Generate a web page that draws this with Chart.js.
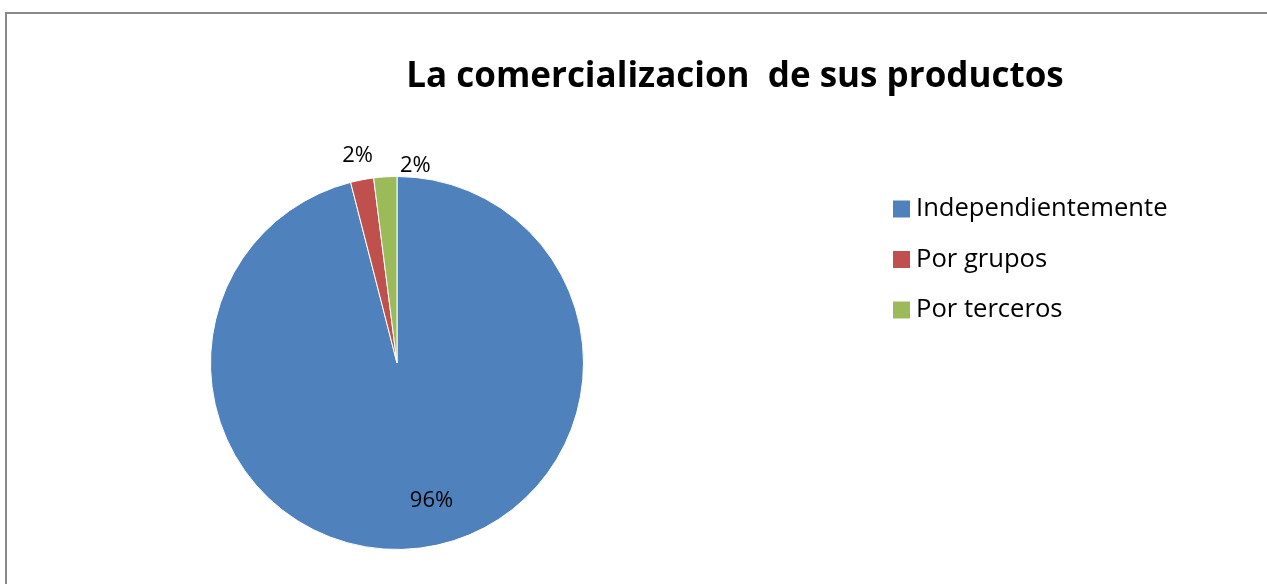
<!DOCTYPE html>
<html>
<head>
<meta charset="utf-8">
<script src="https://cdn.jsdelivr.net/npm/chart.js@4.4.0/dist/chart.umd.min.js"></script>
<style>
html,body{margin:0;padding:0;background:#fff;width:1267px;height:584px;overflow:hidden;}
#frame{position:absolute;left:5px;top:12px;width:1262px;height:572px;border-left:2px solid #888;border-top:2px solid #888;box-sizing:border-box;}
#c{position:absolute;left:0;top:0;}
</style>
</head>
<body>
<div id="frame"></div>
<canvas id="c" width="1267" height="584"></canvas>
<script>
const title = 'La comercializacion  de sus productos';
const categories = ['Independientemente', 'Por grupos', 'Por terceros'];
const values = [96, 2, 2];
const labels = ['96%', '2%', '2%'];
const colors = ['#4F81BD', '#C0504D', '#9BBB59'];

const FONT = '"Open Sans", "DejaVu Sans", sans-serif';

const decor = {
  id: 'decor',
  afterDraw(chart) {
    const ctx = chart.ctx;
    const meta = chart.getDatasetMeta(0);
    ctx.save();
    // title
    ctx.fillStyle = '#000';
    ctx.font = 'bold 35px ' + FONT;
    ctx.textAlign = 'center';
    ctx.textBaseline = 'middle';
    ctx.fillText(title, 735, 77);
    // data labels
    ctx.font = '22px ' + FONT;
    meta.data.forEach((arc, i) => {
      const p = arc.getProps(['x','y','startAngle','endAngle','outerRadius'], true);
      const mid = (p.startAngle + p.endAngle) / 2;
      let x, y, align = 'center';
      if (i === 0) {
        const a = mid - 0.12;
        const r = p.outerRadius * 0.76;
        x = p.x + Math.cos(a) * r; y = p.y + Math.sin(a) * r;
      } else if (i === 1) {
        const r = p.outerRadius + 24;
        x = p.x + Math.cos(mid) * r; y = p.y + Math.sin(mid) * r;
      } else {
        const a = p.endAngle;
        const r = p.outerRadius + 11;
        x = p.x + Math.cos(a) * r + 3; y = p.y + Math.sin(a) * r;
        align = 'left';
      }
      ctx.textAlign = align;
      ctx.fillText(labels[i], x, y);
    });
    // legend
    ctx.font = '25.6px ' + FONT;
    ctx.textAlign = 'left';
    categories.forEach((c, i) => {
      const cy = 209 + i * 50.5;
      ctx.fillStyle = colors[i];
      ctx.fillRect(893, cy - 8.5, 17, 17);
      ctx.fillStyle = '#000';
      ctx.fillText(c, 916, cy);
    });
    ctx.restore();
  }
};

new Chart(document.getElementById('c'), {
  type: 'pie',
  data: {
    labels: categories,
    datasets: [{
      data: values,
      backgroundColor: colors,
      borderColor: '#ffffff',
      borderWidth: 1
    }]
  },
  options: {
    responsive: false,
    animation: false,
    layout: { padding: { left: 210, right: 683, top: 176, bottom: 34 } },
    plugins: { legend: { display: false }, tooltip: { enabled: false }, title: { display: false } }
  },
  plugins: [decor]
});
</script>
</body>
</html>
